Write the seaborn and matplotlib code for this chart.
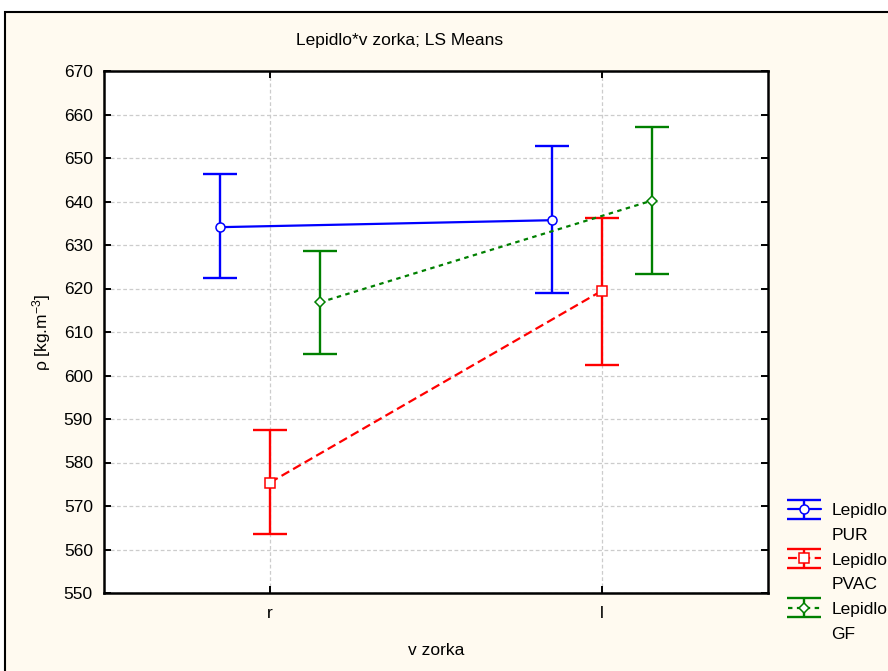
import numpy as np
import pandas as pd
import matplotlib
matplotlib.use("Agg")
import matplotlib.pyplot as plt
import seaborn as sns
from matplotlib.patches import Rectangle
from matplotlib.lines import Line2D
from matplotlib.container import ErrorbarContainer
from matplotlib.legend_handler import HandlerErrorbar

# ---- data ----
vzorka = ["r", "l"]
lepidlo = ["PUR", "PVAC", "GF"]
mean_vals = [[634.1, 635.7], [575.4, 619.5], [616.8, 640.2]]
lower_vals = [[622.4, 618.9], [563.5, 602.3], [605.0, 623.4]]
upper_vals = [[646.3, 652.8], [587.4, 636.3], [628.7, 657.1]]
yticks = list(range(550, 671, 10))

colors = {"PUR": "#0000FF", "PVAC": "#FF0000", "GF": "#008000"}
markers = {"PUR": "o", "PVAC": "s", "GF": "D"}
dashes = {"PUR": "", "PVAC": (4, 2), "GF": (2, 2)}
dodge = 0.15

rows = []
for gi, g in enumerate(lepidlo):
    for ci, c in enumerate(vzorka):
        rows.append({"Lepidlo": g, "vzorka": c, "pos": ci + (gi - 1) * dodge,
                     "mean": mean_vals[gi][ci], "lo": lower_vals[gi][ci], "hi": upper_vals[gi][ci]})
df = pd.DataFrame(rows)

sns.set_theme(style="whitegrid")
plt.rcParams["font.family"] = ["Liberation Sans", "DejaVu Sans"]
plt.rcParams["text.color"] = "black"
plt.rcParams["mathtext.fontset"] = "custom"
plt.rcParams["mathtext.rm"] = "Liberation Sans"
plt.rcParams["mathtext.it"] = "Liberation Sans"
FS = 12.5

fig = plt.figure(figsize=(8.88, 6.71), dpi=100, facecolor="white")
W, H = 888, 671
# outer frame like the Statistica graph window
fig.patches.append(Rectangle((5 / W, -0.05), 1.05, 1 - 12 / H + 0.05, transform=fig.transFigure,
                             facecolor="#FFFAF0", edgecolor="black", linewidth=1.5, zorder=-10))
ax = fig.add_axes([104 / W, 1 - 593 / H, 664 / W, 522 / H])
ax.set_facecolor("white")

# error bars
eb = {}
for gi, g in enumerate(lepidlo):
    d = df[df["Lepidlo"] == g]
    eb[g] = ax.errorbar(d["pos"], d["mean"], yerr=[d["mean"] - d["lo"], d["hi"] - d["mean"]],
                        fmt="none", ecolor=colors[g], elinewidth=1.7, capsize=12.5, capthick=1.7, zorder=3)

# means
sns.lineplot(data=df, x="pos", y="mean", hue="Lepidlo", style="Lepidlo", hue_order=lepidlo,
             style_order=lepidlo, palette=colors, markers=markers, dashes=dashes,
             linewidth=1.6, markersize=6.5, ax=ax, legend=False, zorder=4, sort=False)
mean_lines = {}
for line, g in zip(ax.get_lines()[-3:], lepidlo):
    line.set_markerfacecolor("white")
    line.set_markeredgecolor(colors[g])
    line.set_markeredgewidth(1.1)
    mean_lines[g] = line
for g in lepidlo:
    mean_lines[g].set_marker(markers[g])
mean_lines["GF"].set_markersize(5.5)

ax.set_xlim(-0.5, 1.5)
ax.set_ylim(550, 670)
ax.set_xticks(range(len(vzorka)))
ax.set_xticklabels(vzorka)
ax.set_yticks(yticks)
ax.grid(True, color="#CCCCCC", linestyle=(0, (3, 2)), linewidth=0.9)
for s in ax.spines.values():
    s.set_color("black")
    s.set_linewidth(1.8)
    s.set_visible(True)
ax.tick_params(axis="both", which="both", direction="in", length=5, width=1.4, color="black",
               labelsize=FS, labelcolor="black", top=True, right=True, bottom=True, left=True)
ax.tick_params(axis="x", pad=9)
ax.tick_params(axis="y", pad=8)
ax.set_xlabel("v zorka", fontsize=FS, color="black", labelpad=16)
ax.set_ylabel(r"ρ [kg.m$^{-3}$]", fontsize=FS, color="black", labelpad=8)
fig.text(400 / W, 1 - 40 / H, "Lepidlo*v zorka; LS Means", fontsize=FS, ha="center", va="center")

# legend: errorbar-style glyphs, label on two rows
handles, labels = [], []
blank = Line2D([], [], linestyle="none")
for g in lepidlo:
    cont = ErrorbarContainer((mean_lines[g], eb[g].lines[1], eb[g].lines[2]), has_xerr=False, has_yerr=True)
    handles += [cont, blank]
    labels += ["Lepidlo", g]
ax.legend(handles, labels, loc="upper left", bbox_to_anchor=(788 / W, 1 - 503 / H),
          bbox_transform=fig.transFigure, frameon=False, fontsize=FS, handlelength=1.9,
          handletextpad=0.6, labelspacing=0.55, borderpad=0, borderaxespad=0,
          handler_map={ErrorbarContainer: HandlerErrorbar(xerr_size=0.55)})

fig.savefig("out.png", dpi=100, facecolor="white")
